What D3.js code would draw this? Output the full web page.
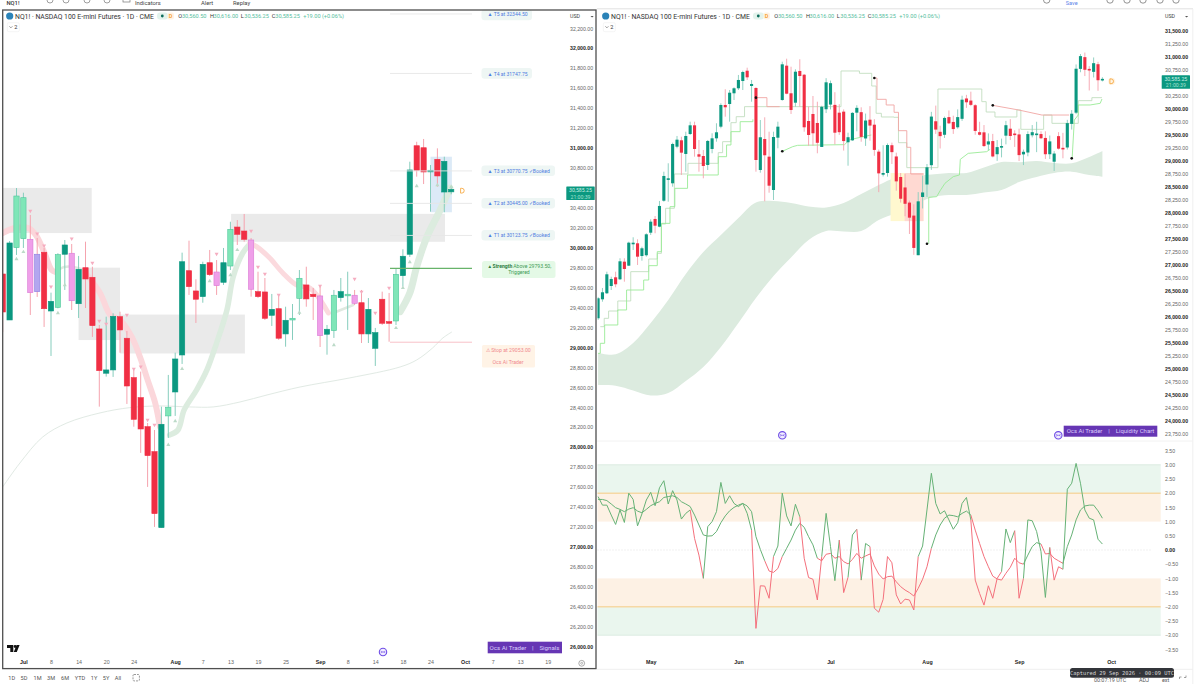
<!DOCTYPE html>
<html>
<head>
<meta charset="utf-8">
<title>NQ1! dual chart</title>
<script src="https://cdnjs.cloudflare.com/ajax/libs/d3/7.9.0/d3.min.js"></script>
<style>
html,body{margin:0;padding:0;background:#fff;overflow:hidden}
svg{display:block;font-family:Roboto,"Liberation Sans",sans-serif}
</style>
</head>
<body>
<svg id="chart" width="1200" height="684"></svg>
<script>
// Daily NQ1! bars, oldest first
const barOpen = [
25981,26346,26462,26602,26769,26731,27070,26993,27404,27423,
27179,27193,27627,27891,27743,28242,28654,28577,29281,29404,
29141,29525,29692,29135,29102,28929,29237,29442,29666,30083,
30102,30308,30404,30544,30742,30448,30410,28833,29429,29089,
28448,29454,30179,30839,30308,30127,30737,30665,29775,29910,
29737,29276,30001,30091,30085,29935,29955,29366,29403,29935,
29945,29439,29800,29704,29186,28742,28775,29309,29093,28698,
28497,28206,27956,27194,28314,28554,28925,29770,29567,29510,
29850,29757,29654,29817,30208,30168,30078,29560,29557,29323,
29389,29136,29276,29493,29627,29534,29517,29133,29169,29500,
29527,29524,29449,29136,28992,29484,29259,29266,29720,29935,
30777,31003,30777,30720,30867,30560.5];
const barHigh = [
26391,26564,26877,26781,26877,27135,27135,27454,27539,27500,
27358,27616,27885,27948,28237,28800,28962,29358,29487,29473,
29569,29762,29762,29410,29218,29410,29539,29731,30115,30385,
30371,30423,30660,30742,30800,30564,30423,29794,29846,29569,
29569,29762,30915,30973,30819,30769,30962,30679,30050,30256,
30146,30068,30599,30552,30329,30098,29998,29550,29945,30078,
30038,29918,30061,29810,29226,29309,29343,29359,29166,28775,
28758,28243,28173,28407,28725,28948,29951,30071,29684,29860,
29978,29877,29998,30261,30278,30339,30098,29760,29697,29537,
29527,29409,29436,29777,29810,29597,29627,29226,29577,29697,
29760,29577,29577,29496,29196,29560,29547,29797,29985,30863,
31063,31091,30830,30997,30913,30616];
const barLow = [
25948,26300,26448,26525,26577,26718,26685,26987,27295,27006,
27089,27166,27583,27616,27731,28223,28223,28512,29250,28737,
28800,29506,29089,28800,28673,28833,29154,29377,29635,29858,
29762,30179,30371,30371,30564,30146,28800,28781,28231,28396,
28256,29250,30165,30289,29910,30050,30050,29569,29300,29300,
29154,29276,29928,29998,29326,29507,29206,28915,29393,29577,
29376,29296,29396,29106,28407,28708,28705,28948,28434,28206,
27943,27602,27201,27194,28093,28314,28835,29527,29246,29449,
29717,29527,29627,29777,30028,30061,29510,29496,29276,29216,
29076,29008,29076,29326,29409,29276,29005,28928,29096,29460,
29176,29426,29045,29045,28815,29226,29058,29226,29610,29908,
30713,30639,30362,30612,30356,30536.25];
const barClose = [
26366,26481,26827,26737,26635,27077,26929,27435,27435,27166,
27327,27596,27839,27762,28141,28718,28673,29333,29416,29166,
29487,29692,29237,29089,28910,29391,29442,29558,30083,30039,
30319,30404,30564,30717,30615,30487,29025,29462,29116,28531,
29467,29666,30865,30300,29987,30723,30640,29654,29506,29539,
29356,30048,30519,30502,29550,29560,29389,29463,29931,30028,
29469,29784,29687,29219,28768,28775,29313,29176,28614,28280,
28183,27916,27334,28230,28401,28885,29860,29610,29484,29834,
29730,29620,29850,30185,30135,30085,29584,29510,29293,29383,
29093,29273,29293,29694,29487,29510,29119,29183,29524,29560,
29534,29443,29136,29383,29149,29243,29249,29734,29915,30780,
31023,30760,30763,30887,30559,30585.25];

// Signal colouring of the last 66 bars
const signalTone = "rdllpvrdldpdrrrddrrrrrrdlddrrdrpdlrrprrdrdllrrpdldlprddrrlddrrdrd".split("");
const signalToneLast = "d";

// Signals pane: markers, zones, ribbons (bar position within the pane, price)
const buySignals = [[2,29887],[3,29958],[8,29346],[9,29627],[24,28023],[25,28263],[26,28785],[30,29667],[33,29727],[34,29978],[43,29349],[48,29025],[57,29196],[58,29597],[59,29857],[60,30619],[63,30629],[65,30612]];
const sellSignals = [[4,30369],[5,30141],[6,30021],[7,29610],[10,30091],[13,29847],[14,29266],[15,29236],[18,29326],[19,28785],[20,28808],[21,28273],[22,28223],[31,29938],[36,30168],[37,29807],[38,29737],[40,29527],[46,29617],[51,29687],[52,29557],[54,29346],[56,29597]];
const supplyZones = [[0.05,12.9,30600,30148],[11,17,29800,29075],[17,35.1,29330,28940],[33.1,64.1,30340,30060]];
const entryBox = [62,65.1,30913,30356];
const ribbonFallA = [[0,30148],[1.8,30198],[3.7,30198],[4.8,30128],[6,29958],[7.1,29777],[7.7,29757]];
const ribbonPauseA = [[7.7,29757],[8.9,29807],[10.9,29797],[11.9,29757]];
const ribbonFallB = [[11.9,29757],[14.1,29547],[15.6,29326],[17,29276],[18.7,29106],[19.9,28905],[21,28675],[22.1,28444],[22.8,28203]];
const ribbonRiseA = [[24.2,28123],[25.4,28173],[26.3,28374],[28.1,28574],[29.6,28775],[31,29045],[32.5,29376],[33.4,29707],[34.8,29948],[35.7,30028]];
const ribbonFallC = [[35.8,30048],[36.8,30011],[38.7,29897],[40.6,29747],[42.6,29627],[44.5,29597],[45.5,29527],[47.2,29346]];
const ribbonPauseB = [[47.9,29346],[50.8,29426]];
const ribbonRiseB = [[57.6,29359],[59,29547],[60,29810],[61.5,30111],[63.4,30379],[64.8,30599]];
const slowAverage = [[0,27602],[2.5,27842],[5.8,28103],[9.3,28243],[14.1,28344],[18.4,28397],[22.8,28414],[27.1,28404],[30.5,28404],[34.4,28454],[38.3,28524],[43.1,28604],[50.3,28695],[57.6,28805],[60,28875],[62.3,28995],[63.8,29096],[65.1,29156]];

// Trade levels
const targetNames = ["T5","T4","T3","T2","T1"];
const targetPrices = [32344.5,31747.75,30770.75,30445,30123.75];
const targetBooked = [false,false,true,true,true];
const strengthPrice = 29793.5;
const stopPrice = 29053;

// Liquidity pane: cloud edges at sampled bars
const cloudBars = [0,4,8,12,16,20,24,28,32,36,40,44,48,52,56,60,64,68,72,76,80,84,88,92,96,100,104,108,112,115];
const cloudUpper = [25314,25289,25506,25891,26333,26833,27256,27583,27910,28208,28237,28198,28131,28112,28198,28371,28544,28689,28718,28746,28775,28775,28881,28987,28981,29006,28968,28962,29083,29198];
const cloudLower = [24698,24685,24593,24496,24545,24775,25045,25429,25891,26371,26794,27150,27487,27660,27650,27660,27871,28006,28160,28304,28352,28352,28400,28448,28602,28698,28775,28800,28737,28704];

// Liquidity pane: trailing levels
const sageLevels = [[0.5,25820],[1.4,25980],[2.4,26121],[4.5,26314],[7.45,26878],[11.55,27121],[13.5,27230],[14.44,27794],[15.4,28096],[17.4,28756],[20.5,28961],[27.4,29166],[28.4,29378],[30.3,29743],[31.5,29858],[33.4,30051],[55.4,30737],[59.6,30692],[62.4,30448],[63.4,29923],[64.6,29852],[67.5,29846],[68.5,29358],[70.4,28878],[77.5,30390],[87.5,30147],[88.5,29948],[90.5,29852],[95.5,29987],[96.4,29615],[101.6,29890],[103.5,29730],[109.5,30166],[112.6,30224],[114.9,30224]];
const limeStepA = [[0,25307],[0.5,25500],[1.5,25852],[4.5,26141],[6.5,26525],[10.4,26717],[11.55,26993],[13.5,27262],[14.44,27807],[16.4,28128],[17.5,28480],[20.4,28737],[27.4,29089],[29.3,29314],[30.3,29570],[32.4,29762],[35.3,29807],[35.3,29807]];
const limeSlopeA = [[42,29192],[44.4,29282],[45.5,29307],[56.2,29320],[57.3,29410],[58.8,29442],[62.3,29506]];
const limeSlopeB = [[75.4,27415],[75.4,28307],[77.2,28320],[78,28435],[79.1,28577],[81,28705],[82.4,28737],[82.6,29038],[84.4,29153],[88.6,29185],[89.4,29230]];
const limeSlopeC = [[108.1,29057],[108.6,29794],[109.5,29890],[109.5,30083],[112.2,30083],[114.5,30115],[114.9,30198]];
const redStepA = [[36,30224],[38.5,30051],[41.4,30051]];
const redStepB = [[63,30602],[63.6,30192],[65.7,30083],[67.5,29942],[68.5,29589],[70.4,29269],[71.3,28756],[74.2,28756]];
const redSlope = [[90,30076],[95.9,29987],[101.2,29890],[107.4,29890]];
const pivotDots = [[36,30224],[42,29192],[63,30602],[75,27415],[90,30076],[108,29057]];
const warnZoneBars = [66.7,69.9,74.2];
const warnZonePrices = [28775,27850];

// Oscillator, one reading per bar
const oscFast = [
1.88,1.58,1.58,1.23,0.90,1.41,0.97,2.00,1.78,0.85,
1.27,1.76,2.03,1.56,2.19,2.44,1.62,2.09,1.76,1.09,
1.29,1.41,0.41,-0.18,-1.00,0.82,1.00,1.35,2.38,1.64,
1.91,1.64,1.53,1.64,1.29,0.70,-2.76,-1.26,-1.27,-1.70,
-0.23,0.14,2.00,1.20,0.85,1.61,1.17,-0.29,-0.97,-1.03,
-1.76,-0.23,1.29,0.12,-1.08,0.35,-1.50,-0.96,0.53,0.73,
-1.06,0.23,0.12,-2.05,-2.19,-1.74,-0.23,-0.45,-1.58,-1.90,
-1.73,-1.76,-2.11,-0.23,0.14,1.41,2.70,1.64,1.27,1.38,
1.06,0.73,0.96,1.64,1.85,1.06,-1.06,-1.53,-1.94,-1.26,
-1.70,-1.00,-0.76,0.74,0.26,0.68,-1.70,-1.00,1.06,1.03,
0.65,-0.06,-1.67,0.09,-1.06,-0.59,-0.68,2.14,2.35,3.05,
2.35,1.41,1.12,1.06,0.38,0.21];
const oscSlow = [
1.78,1.78,1.74,1.62,1.49,1.43,1.35,1.44,1.49,1.37,
1.31,1.43,1.56,1.64,1.70,1.85,1.88,1.91,1.85,1.70,
1.62,1.53,1.23,0.88,0.53,0.49,0.50,0.65,0.96,1.20,
1.38,1.50,1.58,1.64,1.55,1.35,0.47,0.02,-0.38,-0.74,
-0.79,-0.65,-0.23,0.06,0.35,0.70,0.94,0.80,0.47,0.18,
-0.29,-0.38,-0.15,-0.12,-0.29,-0.23,-0.41,-0.49,-0.33,-0.12,
-0.29,-0.21,-0.14,-0.56,-0.85,-1.02,-0.94,-0.92,-1.12,-1.29,
-1.41,-1.50,-1.62,-1.35,-1.03,-0.59,0.06,0.53,0.88,1.12,
1.23,1.21,1.17,1.29,1.37,1.23,0.70,0.23,-0.23,-0.59,
-0.92,-1.02,-1.06,-0.82,-0.61,-0.29,-0.45,-0.50,-0.18,0.12,
0.26,0.21,-0.14,-0.12,-0.29,-0.38,-0.47,0.12,0.53,1.06,
1.41,1.55,1.58,1.58,1.38,1.12];
const fastRedRuns = [[21,24],[35,40],[46,51],[55,57],[59,60],[62,73],[85,92],[95,97],[103,106]];
const slowRedRuns = [[38,42],[50,76],[85,97],[101,106]];
const oscBands = [-3,-2,-1,1,2,3];
const oscTicks = [3.5,3,2.5,2,1.5,1,0.5,0,-0.5,-1,-1.5,-2,-2.5,-3,-3.5];

// Time axes
const leftTimeBars = [3,7,11,15,19,25,29,33,37,41,46,50,54,58,62,67,71,75,79];
const leftTimeLabels = ["Jul","8","14","20","24","Aug","7","13","19","25","Sep","8","14","18","24","Oct","7","13","19"];
const rightTimeBars = [12,32,53,75,96,117];
const rightTimeLabels = ["May","Jun","Jul","Aug","Sep","Oct"];
// the live price tag sits where the 30,600 and 30,500 labels would fall
const leftPriceTicks = d3.range(26000,32201,200).filter(v=>v!==30600);
const rightPriceTicks = d3.range(23750,31501,250).filter(v=>v!==30500);

// Header and toolbar text
const titleText = "NQ1! · NASDAQ 100 E-mini Futures · 1D · CME";
const ohlcKeys = ["O","H","L","C"];
const ohlcValues = ["30,560.50","30,616.00","30,536.25","30,585.25"];
const ohlcOffsets = [178.3,210,240.7,271.7];
const changeText = "+19.00 (+0.06%)";
const rangeButtons = ["1D","5D","1M","3M","6M","YTD","1Y","5Y","All"];
const rangeButtonX = [11.7,24,37.5,51,65,80,94,106,118];

const DARK = "#0b9880", RED = "#f02f44", WICK_UP = "#86cdbd", WICK_DOWN = "#f5a3ae";
const TONES = {
  d:{fill:DARK,stroke:DARK,wick:WICK_UP},
  l:{fill:"#7fe6b8",stroke:"#4fc79c",wick:WICK_UP},
  r:{fill:RED,stroke:RED,wick:WICK_DOWN},
  p:{fill:"#ef9fe9",stroke:"#d97ad4",wick:WICK_DOWN},
  v:{fill:"#b3a6ef",stroke:"#8d7de0",wick:WICK_DOWN}
};

const svg = d3.select("#chart");
const bars = barOpen.map((o,i)=>({i,o,h:barHigh[i],l:barLow[i],c:barClose[i]}));

// Scales
const xL = d3.scaleLinear().domain([0,65]).range([2.7,451.2]);
const yL = d3.scaleLinear().domain([26000,32000]).range([646.7,48.3]);
const xR = d3.scaleLinear().domain([12,115]).range([650.7,1102.4]);
const yR = d3.scaleLinear().domain([24000,31000]).range([421.3,57.3]);
const yO = d3.scaleLinear().domain([-3,3]).range([635.2,464.8]);

function text(g,x,y,str,o={}){
  return g.append("text").attr("x",x).attr("y",y).attr("dy","0.35em")
    .attr("font-size",o.size||6).attr("fill",o.fill||"#333")
    .attr("font-weight",o.weight||400).attr("text-anchor",o.anchor||"start")
    .attr("font-family",o.family||null).text(str);
}

const defs = svg.append("defs");
defs.append("clipPath").attr("id","clipL").append("rect").attr("x",3).attr("y",11).attr("width",563).attr("height",641);
defs.append("clipPath").attr("id","clipR").append("rect").attr("x",597.5).attr("y",9).attr("width",563).attr("height",431);

// Toolbars along the top edge of the window
function toolbars(){
  const g = svg.append("g");
  text(g,6.5,3,"NQ1!",{size:5.8,fill:"#333",weight:500});
  [[50,0],[66,0],[87,0],[107,0]].forEach(p=>g.append("circle").attr("cx",p[0]).attr("cy",p[1]).attr("r",3).attr("fill","none").attr("stroke","#777").attr("stroke-width",0.7));
  text(g,135,3,"Indicators",{size:5.8,fill:"#444"});
  g.append("rect").attr("x",123).attr("y",-1).attr("width",7).attr("height",3).attr("fill","none").attr("stroke","#777").attr("stroke-width",0.7);
  text(g,201,3,"Alert",{size:5.8,fill:"#444"});
  text(g,233,3,"Replay",{size:5.8,fill:"#444"});
  text(g,1071.7,3,"Save",{size:5.5,fill:"#5c84e8",anchor:"middle"});
  [1046.7,1110,1127,1143,1160,1176].forEach(x=>g.append("circle").attr("cx",x).attr("cy",0).attr("r",3.2).attr("fill","none").attr("stroke","#666").attr("stroke-width",0.7));
}

// Shared chart header
function header(dx){
  const g = svg.append("g").attr("transform",`translate(${dx},0)`);
  g.append("circle").attr("cx",9.7).attr("cy",16).attr("r",3.6).attr("fill","#2b83b8");
  text(g,15,16.3,titleText,{size:6.85,fill:"#333"});
  g.append("rect").attr("x",157).attr("y",12.5).attr("width",11).attr("height",7).attr("rx",3).attr("fill","#e3f3ec");
  g.append("circle").attr("cx",162.3).attr("cy",16).attr("r",1.4).attr("fill","#0b6b5a");
  g.append("rect").attr("x",167.5).attr("y",12.5).attr("width",6.5).attr("height",7).attr("rx",2).attr("fill","#fff3e2");
  text(g,170.5,16.3,"D",{size:5.5,fill:"#f59a23",anchor:"middle",weight:500});
  ohlcKeys.forEach((k,i)=>{
    const x = ohlcOffsets[i];
    text(g,x,16.3,k,{size:5.6,fill:"#333"});
    text(g,x+3.6,16.3,ohlcValues[i],{size:5.6,fill:"#57c0a0"});
  });
  text(g,303.3,16.3,changeText,{size:5.6,fill:"#57c0a0"});
  g.append("rect").attr("x",7.3).attr("y",22.7).attr("width",12).attr("height",9).attr("rx",1.5).attr("fill","#fff").attr("stroke","#eee").attr("stroke-width",0.6);
  g.append("path").attr("d","M9.4 26.3l1.5 1.5 1.5-1.5").attr("fill","none").attr("stroke","#555").attr("stroke-width",0.6);
  text(g,14.2,27,"2",{size:5.6,fill:"#333"});
}

// Candles drawn through the given scales
function candles(g,data,x,y,w,toneOf){
  const sel = g.selectAll("g.bar").data(data).join("g").attr("class","bar");
  sel.append("line").attr("x1",d=>x(d.k)).attr("x2",d=>x(d.k))
    .attr("y1",d=>y(d.h)).attr("y2",d=>y(d.l))
    .attr("stroke",d=>toneOf(d).wick).attr("stroke-width",d=>w>4?1:0.9);
  sel.append("rect").attr("x",d=>x(d.k)-w/2).attr("width",w)
    .attr("y",d=>Math.min(y(d.o),y(d.c)))
    .attr("height",d=>Math.max(1.6,Math.abs(y(d.o)-y(d.c))))
    .attr("fill",d=>toneOf(d).fill).attr("stroke",d=>toneOf(d).stroke).attr("stroke-width",w>4?0.6:0);
}

function priceAxis(g,tx,ticks,y,isBold,size){
  const a = g.append("g").attr("transform",`translate(${tx},0)`)
    .call(d3.axisRight(y).tickValues(ticks).tickSize(0).tickPadding(0).tickFormat(d3.format(",.2f")));
  a.select(".domain").remove();
  a.selectAll("text").attr("font-size",size).attr("font-family",null)
    .attr("font-weight",d=>isBold(d)?700:400).attr("fill",d=>isBold(d)?"#222":"#666");
  return a;
}
function timeAxis(g,ty,x,ticks,labels,isBold){
  const a = g.append("g").attr("transform",`translate(0,${ty})`)
    .call(d3.axisBottom(x).tickValues(ticks).tickSize(0).tickPadding(0).tickFormat((d,i)=>labels[i]));
  a.select(".domain").remove();
  a.selectAll("text").attr("font-size",5.3).attr("font-family",null).attr("dy","0").attr("y",2)
    .attr("font-weight",d=>isBold(d)?700:400).attr("fill",d=>isBold(d)?"#222":"#666");
}
function linkIcon(g,cx,cy){
  g.append("circle").attr("cx",cx).attr("cy",cy).attr("r",3.7).attr("fill","#f1edff").attr("stroke","#6d4be6").attr("stroke-width",1.1);
  g.append("path").attr("d",`M${cx-2.4} ${cy-1}l1.6 1-1.6 1M${cx+2.4} ${cy-1}l-1.6 1 1.6 1M${cx-1} ${cy}h2`).attr("fill","none").attr("stroke","#6d4be6").attr("stroke-width",0.6);
}
function badge(g,x0,x1,y0,y1,parts,size){
  g.append("rect").attr("x",x0).attr("y",y0).attr("width",x1-x0).attr("height",y1-y0).attr("fill","#6636b4");
  parts.forEach(p=>text(g,p[0],(y0+y1)/2,p[1],{size:size,fill:"#d9ccfb",anchor:"middle"}));
}
function priceTag(g,x0,x1,yc,size){
  g.append("rect").attr("x",x0).attr("y",yc-6.8).attr("width",x1-x0).attr("height",13.6).attr("fill","#0b9880").attr("rx",0.6);
  text(g,(x0+x1)/2,yc-3,"30,585.25",{size:size,fill:"#c8efe3",anchor:"middle"});
  text(g,(x0+x1)/2,yc+3.4,"21:00:39",{size:size,fill:"#a5e2d2",anchor:"middle"});
}
function orangeD(g,x,y){
  g.append("path").attr("d",`M${x-1.6} ${y-2.4}v4.8h1.2a2.4 2.4 0 0 0 0-4.8z`).attr("fill","none").attr("stroke","#f5a02f").attr("stroke-width",0.8);
}

/* ---------- Signals pane ---------- */
function signalsPane(){
  const g = svg.append("g");
  const plot = g.append("g").attr("clip-path","url(#clipL)");

  plot.selectAll("rect.zone").data(supplyZones).join("rect").attr("class","zone")
    .attr("x",d=>xL(d[0])).attr("width",d=>xL(d[1])-xL(d[0]))
    .attr("y",d=>yL(d[2])).attr("height",d=>yL(d[3])-yL(d[2]))
    .attr("fill","#c9c9c9").attr("opacity",0.38);
  plot.append("rect").attr("x",xL(entryBox[0])).attr("width",xL(entryBox[1])-xL(entryBox[0]))
    .attr("y",yL(entryBox[2])).attr("height",yL(entryBox[3])-yL(entryBox[2])).attr("fill","#d6e6f6").attr("opacity",0.85);

  const avg = d3.line().x(d=>xL(d[0])).y(d=>yL(d[1])).curve(d3.curveCatmullRom);
  plot.append("path").attr("d",avg(slowAverage)).attr("fill","none").attr("stroke","#e1eae4").attr("stroke-width",1);

  const rib = d3.line().x(d=>xL(d[0])).y(d=>yL(d[1])).curve(d3.curveCatmullRom);
  [[ribbonFallA,"#fbd6da",6],[ribbonPauseA,"#dfe9e0",2.5],[ribbonFallB,"#fbd7db",6],[ribbonRiseA,"#dcecdf",5.5],[ribbonFallC,"#fbdade",5],[ribbonPauseB,"#dfe9e0",2.5],[ribbonRiseB,"#dcecdf",7]]
    .forEach(r=>plot.append("path").attr("d",rib(r[0])).attr("fill","none").attr("stroke",r[1]).attr("stroke-width",r[2]).attr("stroke-linecap","round").attr("stroke-linejoin","round"));

  // level lines
  const levelLine = (p,c,w)=>g.append("line").attr("x1",390).attr("x2",472).attr("y1",yL(p)).attr("y2",yL(p)).attr("stroke",c).attr("stroke-width",w);
  targetPrices.forEach(p=>levelLine(p,"#e7e7e7",0.9));
  levelLine(strengthPrice,"#67b36a",1.1);
  levelLine(stopPrice,"#f6b9c1",0.9);

  const sliced = bars.slice(50).map((d,k)=>Object.assign({k,tone:signalTone[k]||signalToneLast},d));
  candles(plot.append("g"),sliced,xL,yL,5.3,d=>TONES[d.tone]);

  const tri = d3.symbol().type(d3.symbolTriangle).size(7);
  plot.selectAll("path.buy").data(buySignals).join("path").attr("class","buy")
    .attr("d",tri).attr("fill","#bcdac8")
    .attr("transform",d=>`translate(${xL(d[0])},${yL(d[1])})`);
  plot.selectAll("path.sell").data(sellSignals).join("path").attr("class","sell")
    .attr("d",tri).attr("fill","#f5adc0")
    .attr("transform",d=>`translate(${xL(d[0])},${yL(d[1])}) rotate(180)`);

  orangeD(g,xL(65)+11,190.7);

  // target captions
  targetNames.forEach((n,i)=>{
    const y = yL(targetPrices[i]);
    const booked = targetBooked[i];
    const top = Math.max(9.6,y-5.4);
    g.append("rect").attr("x",481.5).attr("y",top).attr("width",booked?73.5:50.5).attr("height",10.6).attr("rx",3).attr("fill","#eef6f4");
    text(g,487.5,y+0.3,`▲ ${n} at ${targetPrices[i].toFixed(2)}`+(booked?" ✓Booked":""),{size:5.05,fill:"#4d7be0"});
  });
  g.append("rect").attr("x",482).attr("y",261).attr("width",73.5).attr("height",17).attr("rx",2.5).attr("fill","#e4f9e6");
  const yS = yL(strengthPrice)-2.4;
  text(g,487.5,yS,"▲",{size:4.6,fill:"#2e7d42"});
  text(g,492.5,yS,"Strength",{size:5.1,fill:"#2e7d42",weight:700});
  text(g,513.3,yS,`Above ${strengthPrice.toFixed(2)},`,{size:5.1,fill:"#3d9a55"});
  text(g,519,yS+6.2,"Triggered",{size:5.1,fill:"#3d9a55",anchor:"middle"});
  g.append("rect").attr("x",482).attr("y",345).attr("width",53).attr("height",22.5).attr("rx",1.5).attr("fill","#fff3e6");
  text(g,486,350,`⚠ Stop at ${stopPrice.toFixed(2)}`,{size:5.2,fill:"#f08a8e"});
  text(g,508,362,"Ocs Ai Trader",{size:5.2,fill:"#f08a8e",anchor:"middle"});

  // axes
  priceAxis(g,570,leftPriceTicks,yL,d=>d%1000===0,5.2);
  timeAxis(g,661.8,xL,leftTimeBars,leftTimeLabels,d=>[3,25,46,67].includes(d));
  text(g,570,16.5,"USD",{size:5.3,fill:"#444"});
  g.append("path").attr("d","M590.5 16l1.6 1.6 1.6-1.6z").attr("fill","#555");
  priceTag(g,566.3,594.7,193.3,5.2);

  badge(g,487.7,562,641.7,653.3,[[508,"Ocs Ai Trader"],[532.7,"|"],[549.5,"Signals"]],6.2);
  linkIcon(g,383,652);

  // TradingView mark
  g.append("path").attr("d","M7 645h6.3v7h-3v-4h-3.3zM13.8 652l2.8-7h3l-2.8 7z").attr("fill","#111");
  g.append("circle").attr("cx",15.1).attr("cy",646.5).attr("r",1.4).attr("fill","#111");

  g.append("circle").attr("cx",581.7).attr("cy",663.3).attr("r",2.9).attr("fill","none").attr("stroke","#888").attr("stroke-width",0.7);
  g.append("circle").attr("cx",581.7).attr("cy",663.3).attr("r",1).attr("fill","none").attr("stroke","#888").attr("stroke-width",0.6);

  // outline of the active pane
  svg.append("rect").attr("x",2.7).attr("y",10).attr("width",593.3).attr("height",658.6).attr("fill","none").attr("stroke","#4f4f4f").attr("stroke-width",1.3);

  rangeButtons.forEach((b,i)=>text(svg,rangeButtonX[i],677.7,b,{size:5.6,fill:"#555",anchor:"middle"}));
  svg.append("rect").attr("x",133).attr("y",674.5).attr("width",6.4).attr("height",6.4).attr("rx",1).attr("fill","none").attr("stroke","#555").attr("stroke-width",0.6).attr("stroke-dasharray","2 1");
}

/* ---------- Liquidity pane ---------- */
function liquidityPane(){
  const g = svg.append("g");
  g.append("line").attr("x1",597).attr("x2",1193).attr("y1",8.8).attr("y2",8.8).attr("stroke","#e2e2e2");
  g.append("line").attr("x1",1192.8).attr("x2",1192.8).attr("y1",9).attr("y2",684).attr("stroke","#efefef");
  g.append("line").attr("x1",597).attr("x2",1193).attr("y1",441).attr("y2",441).attr("stroke","#f2f2f2");
  g.append("line").attr("x1",597).attr("x2",1193).attr("y1",669.3).attr("y2",669.3).attr("stroke","#efefef");
  const plot = g.append("g").attr("clip-path","url(#clipR)");

  const area = d3.area().x(i=>xR(cloudBars[i])).y0(i=>yR(cloudLower[i])).y1(i=>yR(cloudUpper[i])).curve(d3.curveCatmullRom);
  plot.append("path").attr("d",area(d3.range(cloudBars.length))).attr("fill","#dcebdf");

  // warning bars over the cloud
  plot.append("rect").attr("x",xR(warnZoneBars[0])).attr("width",xR(warnZoneBars[2])-xR(warnZoneBars[0]))
    .attr("y",yR(warnZonePrices[0])).attr("height",yR(warnZonePrices[1])-yR(warnZonePrices[0])).attr("fill","#fff8cf");
  plot.append("rect").attr("x",xR(warnZoneBars[1])).attr("width",xR(warnZoneBars[2])-xR(warnZoneBars[1]))
    .attr("y",yR(warnZonePrices[0])).attr("height",yR(warnZonePrices[1])-yR(warnZonePrices[0])).attr("fill","#ffd9d2");

  const step = d3.line().x(d=>xR(d[0])).y(d=>yR(d[1])).curve(d3.curveStepAfter);
  const straight = d3.line().x(d=>xR(d[0])).y(d=>yR(d[1]));
  const stroke = (d,c)=>plot.append("path").attr("d",d).attr("fill","none").attr("stroke",c).attr("stroke-width",0.9);
  stroke(step(sageLevels),"#c2dec0");
  stroke(step(limeStepA),"#9aeb96");
  stroke(straight(limeSlopeA),"#9aeb96");
  stroke(straight(limeSlopeB),"#9aeb96");
  stroke(straight(limeSlopeC),"#9aeb96");
  stroke(step(redStepA),"#f0a6a4");
  stroke(step(redStepB),"#f0a6a4");
  stroke(straight(redSlope),"#f0a6a4");

  const data = bars.map(d=>Object.assign({k:d.i},d));
  candles(plot.append("g"),data,xR,yR,3.1,d=>d.c>=d.o?TONES.d:TONES.r);

  plot.selectAll("circle.pivot").data(pivotDots).join("circle").attr("class","pivot")
    .attr("cx",d=>xR(d[0])).attr("cy",d=>yR(d[1])).attr("r",1.3).attr("fill","#111");

  g.append("circle").attr("cx",1111.7).attr("cy",81.3).attr("r",3.6).attr("fill","#fff3e2");
  orangeD(g,1111.5,81.3);

  // oscillator zones
  const x0 = 597.5, x1 = 1160.7;
  const band = (a,b,c)=>g.append("rect").attr("x",x0).attr("width",x1-x0).attr("y",yO(b)).attr("height",yO(a)-yO(b)).attr("fill",c);
  band(oscBands[4],oscBands[5],"#eaf6ee");
  band(oscBands[3],oscBands[4],"#fdf1e4");
  band(oscBands[1],oscBands[2],"#fdf1e4");
  band(oscBands[0],oscBands[1],"#eaf6ee");
  [oscBands[5],oscBands[0]].forEach(v=>g.append("line").attr("x1",x0).attr("x2",x1).attr("y1",yO(v)).attr("y2",yO(v)).attr("stroke","#dcebe2").attr("stroke-width",1));
  [oscBands[4],oscBands[1]].forEach(v=>g.append("line").attr("x1",x0).attr("x2",x1).attr("y1",yO(v)).attr("y2",yO(v)).attr("stroke","#f6d8a4").attr("stroke-width",1.4));
  g.append("line").attr("x1",x0).attr("x2",1152).attr("y1",yO(0)).attr("y2",yO(0)).attr("stroke","#dcdcdc").attr("stroke-width",0.8).attr("stroke-dasharray","1 2");

  // oscillator lines, split where the colour changes
  const oscLine = d3.line().x(d=>xR(d.i)).y(d=>yO(d.v));
  function colourRuns(values,redRuns){
    const isRed = a=>redRuns.some(r=>a>=r[0]&&a<r[1]);
    const out = [];
    for(let a=0;a<values.length-1;a++){
      const red = isRed(a);
      if(!out.length||out[out.length-1].red!==red) out.push({red,pts:[{i:a,v:values[a]}]});
      out[out.length-1].pts.push({i:a+1,v:values[a+1]});
    }
    return out;
  }
  [[oscSlow,slowRedRuns],[oscFast,fastRedRuns]].forEach(s=>{
    colourRuns(s[0],s[1]).forEach(r=>{
      g.append("path").attr("d",oscLine(r.pts)).attr("fill","none")
        .attr("stroke",r.red?"#f4707c":"#66b276").attr("stroke-width",1).attr("stroke-linejoin","round");
    });
  });

  // axes
  priceAxis(g,1165,rightPriceTicks,yR,d=>d%500===0,5.2);
  priceAxis(g,1165,oscTicks,yO,d=>d===0,5.2);
  timeAxis(g,661.8,xR,rightTimeBars,rightTimeLabels,()=>true);
  text(g,1165,16.5,"USD",{size:5.3,fill:"#444"});
  g.append("path").attr("d","M1185 16l1.6 1.6 1.6-1.6z").attr("fill","#555");
  priceTag(g,1161.7,1190,82,5.2);

  badge(g,1063.7,1157.3,425.7,436.7,[[1084.5,"Ocs Ai Trader"],[1109,"|"],[1135,"Liquidity Chart"]],6);
  linkIcon(g,782.3,435.3);
  linkIcon(g,1058.3,435.3);

  // session clock under the stamp
  text(g,1094,680.3,"00:07:19 UTC",{size:5.4,fill:"#555"});
  text(g,1139,680.3,"ADJ",{size:5.4,fill:"#555"});
  text(g,1162,680.3,"ext",{size:5.4,fill:"#555"});
  g.append("rect").attr("x",1070).attr("y",668).attr("width",104).attr("height",9.8).attr("rx",2.5).attr("fill","#33353a");
  text(g,1122,673,"Captured 29 Sep 2026 · 00:09 UTC",{size:5.4,fill:"#d6d6d6",anchor:"middle",family:"'DejaVu Sans Mono',monospace"});
  g.append("path").attr("d","M1179.5 679v-2h2M1186 675.5v2h-2").attr("fill","none").attr("stroke","#666").attr("stroke-width",0.6);
}

toolbars();
signalsPane();
liquidityPane();
header(0);
header(596);
</script>
</body>
</html>
